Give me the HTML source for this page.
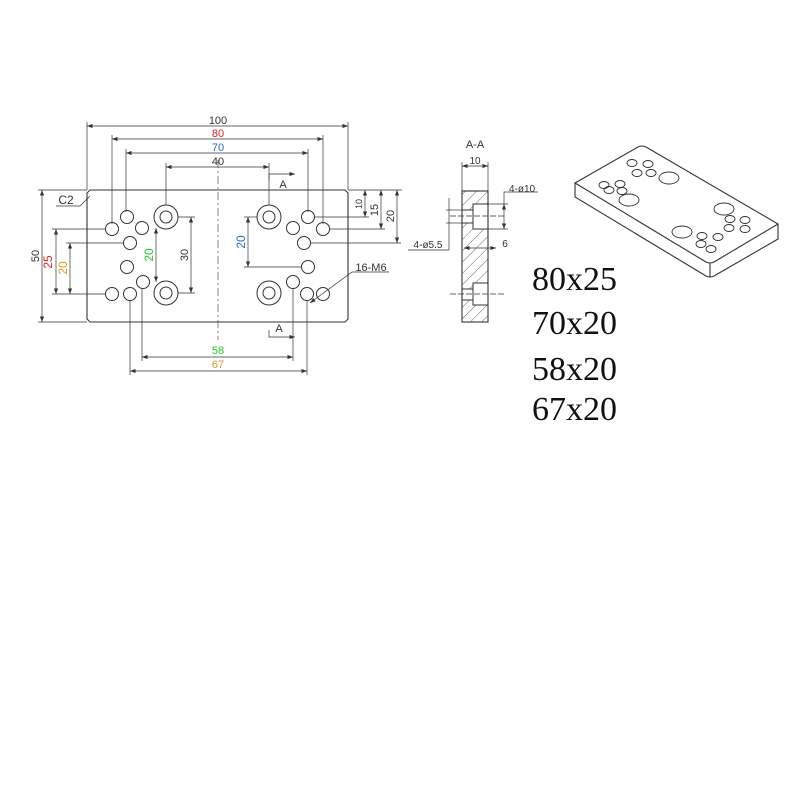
<!DOCTYPE html>
<html><head><style>body{margin:0;background:#fff}</style></head><body>
<svg width="800" height="800" xmlns="http://www.w3.org/2000/svg" font-family="Liberation Sans, sans-serif">
<defs><marker id="a" markerWidth="8" markerHeight="6" refX="8" refY="3" orient="auto-start-reverse"><path d="M0,0 L8,3 L0,6z" fill="#333"/></marker>
<pattern id="h" width="8" height="8" patternUnits="userSpaceOnUse" patternTransform="rotate(45)"><line x1="0" y1="0" x2="0" y2="8" stroke="#444" stroke-width="0.8"/></pattern></defs>
<g stroke="#333" fill="none" stroke-width="0.9">
<path d="M90,190 H345 L348,193 V319 L345,322 H90 L87,319 V193 Z" stroke-width="1.1"/>
<line x1="218" y1="160" x2="218" y2="340" stroke-dasharray="8,3,2,3" stroke-width="0.6"/>
<g stroke-width="1">
<circle cx="166" cy="217" r="12"/><circle cx="166" cy="217" r="6"/>
<circle cx="166" cy="293" r="12"/><circle cx="166" cy="293" r="6"/>
<circle cx="269" cy="217" r="12"/><circle cx="269" cy="217" r="6"/>
<circle cx="269" cy="293" r="12"/><circle cx="269" cy="293" r="6"/>
<g r="6">
<circle cx="127" cy="217" r="6.5"/><circle cx="112" cy="229" r="6.5"/><circle cx="142" cy="228" r="6.5"/><circle cx="130" cy="243" r="6.5"/>
<circle cx="127" cy="267" r="6.5"/><circle cx="143" cy="282" r="6.5"/><circle cx="112" cy="294" r="6.5"/><circle cx="130" cy="294" r="6.5"/>
<circle cx="308" cy="217" r="6.5"/><circle cx="293" cy="228" r="6.5"/><circle cx="323" cy="229" r="6.5"/><circle cx="304" cy="243" r="6.5"/>
<circle cx="308" cy="267" r="6.5"/><circle cx="293" cy="282" r="6.5"/><circle cx="307" cy="294" r="6.5"/><circle cx="323" cy="294" r="6.5"/>
</g></g>
<g stroke-width="0.7">
<line x1="87" y1="122" x2="87" y2="190"/><line x1="348" y1="122" x2="348" y2="190"/>
<line x1="112" y1="135" x2="112" y2="224"/><line x1="323" y1="135" x2="323" y2="224"/>
<line x1="126" y1="149" x2="126" y2="212"/><line x1="308" y1="149" x2="308" y2="212"/>
<line x1="166" y1="163" x2="166" y2="205"/><line x1="269" y1="163" x2="269" y2="205"/>
<line x1="87" y1="126" x2="348" y2="126" marker-start="url(#a)" marker-end="url(#a)"/>
<line x1="112" y1="139" x2="323" y2="139" marker-start="url(#a)" marker-end="url(#a)"/>
<line x1="126" y1="153" x2="308" y2="153" marker-start="url(#a)" marker-end="url(#a)"/>
<line x1="166" y1="167" x2="269" y2="167" marker-start="url(#a)" marker-end="url(#a)"/>
<line x1="142" y1="288" x2="142" y2="361"/><line x1="293" y1="288" x2="293" y2="361"/>
<line x1="130" y1="300" x2="130" y2="375"/><line x1="307" y1="300" x2="307" y2="375"/>
<line x1="142" y1="357" x2="293" y2="357" marker-start="url(#a)" marker-end="url(#a)"/>
<line x1="130" y1="371" x2="307" y2="371" marker-start="url(#a)" marker-end="url(#a)"/>
<line x1="38" y1="190" x2="87" y2="190"/><line x1="38" y1="322" x2="87" y2="322"/>
<line x1="42" y1="190" x2="42" y2="322" marker-start="url(#a)" marker-end="url(#a)"/>
<line x1="52" y1="229" x2="106" y2="229"/><line x1="52" y1="294" x2="106" y2="294"/>
<line x1="56" y1="229" x2="56" y2="294" marker-start="url(#a)" marker-end="url(#a)"/>
<line x1="66" y1="243" x2="124" y2="243"/>
<line x1="70" y1="243" x2="70" y2="294" marker-start="url(#a)" marker-end="url(#a)"/>
<line x1="156" y1="228" x2="156" y2="282" marker-start="url(#a)" marker-end="url(#a)"/>
<line x1="178" y1="217" x2="195" y2="217"/><line x1="178" y1="293" x2="195" y2="293"/>
<line x1="191" y1="217" x2="191" y2="293" marker-start="url(#a)" marker-end="url(#a)"/>
<line x1="244" y1="217" x2="257" y2="217"/><line x1="244" y1="267" x2="302" y2="267"/>
<line x1="248" y1="217" x2="248" y2="267" marker-start="url(#a)" marker-end="url(#a)"/>
<line x1="348" y1="190" x2="402" y2="190"/>
<line x1="314" y1="217" x2="369" y2="217"/><line x1="329" y1="229" x2="385" y2="229"/><line x1="310" y1="243" x2="401" y2="243"/>
<line x1="365" y1="190" x2="365" y2="217" marker-start="url(#a)" marker-end="url(#a)"/>
<line x1="381" y1="190" x2="381" y2="229" marker-start="url(#a)" marker-end="url(#a)"/>
<line x1="397" y1="190" x2="397" y2="243" marker-start="url(#a)" marker-end="url(#a)"/>
<path d="M269,180 V174 H295" marker-end="url(#a)"/><path d="M269,330 V337 H295" marker-end="url(#a)"/>
<path d="M389,272 H352 L310,303" marker-end="url(#a)"/>
<path d="M56,206 H80 L90,196"/>
</g>
<!-- section -->
<rect x="462" y="191" width="26" height="131" fill="url(#h)"/>
<rect x="473" y="204" width="15" height="25" fill="#fff" stroke="none"/><rect x="462" y="210" width="12" height="13" fill="#fff" stroke="none"/>
<rect x="473" y="283" width="15" height="22" fill="#fff" stroke="none"/><rect x="462" y="289" width="12" height="11" fill="#fff" stroke="none"/>
<rect x="462" y="191" width="26" height="131" stroke-width="1.1"/>
<path d="M488,204 H473 V229 H488 M473,210 H462 M473,223 H462 M488,283 H473 V305 H488 M473,289 H462 M473,300 H462" stroke-width="1"/>
<g stroke-width="0.7">
<line x1="462" y1="162" x2="462" y2="191"/><line x1="488" y1="162" x2="488" y2="191"/>
<line x1="462" y1="166" x2="488" y2="166" marker-start="url(#a)" marker-end="url(#a)"/>
<line x1="450" y1="216" x2="505" y2="216" stroke-dasharray="6,2"/><line x1="450" y1="294" x2="505" y2="294" stroke-dasharray="6,2"/>
<line x1="488" y1="204" x2="508" y2="204"/><line x1="488" y1="229" x2="508" y2="229"/>
<line x1="504" y1="204" x2="504" y2="229" marker-start="url(#a)" marker-end="url(#a)"/>
<path d="M504,204 V192 H538"/>
<line x1="446" y1="210" x2="462" y2="210"/><line x1="446" y1="223" x2="462" y2="223"/>
<line x1="449" y1="198" x2="449" y2="250"/><line x1="408" y1="250" x2="449" y2="250"/>
<line x1="464" y1="248" x2="496" y2="248" marker-start="url(#a)" marker-end="url(#a)"/>
</g>
<!-- iso -->
<g stroke-width="1.1">
<path d="M575,183 L638,147 Q642,145 646,147 L778,224 L714,262 Q710,264 706,262 Z"/>
<path d="M575,183 V197 L706,276 Q710,278 714,276 L778,239 V224 M710,263 V277"/>
<g stroke-width="0.9">
<ellipse cx="632" cy="163" rx="5" ry="3.5"/><ellipse cx="648" cy="164" rx="5" ry="3.5"/><ellipse cx="637" cy="173" rx="5" ry="3.5"/><ellipse cx="651" cy="173" rx="5" ry="3.5"/>
<ellipse cx="669" cy="178" rx="10" ry="6"/>
<ellipse cx="604" cy="185" rx="5" ry="3.5"/><ellipse cx="620" cy="184" rx="5" ry="3.5"/><ellipse cx="609" cy="190" rx="5" ry="3.5"/><ellipse cx="622" cy="191" rx="5" ry="3.5"/>
<ellipse cx="629" cy="200" rx="10" ry="6"/>
<ellipse cx="724" cy="209" rx="10" ry="6"/>
<ellipse cx="730" cy="219" rx="5" ry="3.5"/><ellipse cx="745" cy="220" rx="5" ry="3.5"/><ellipse cx="729" cy="228" rx="5" ry="3.5"/><ellipse cx="745" cy="229" rx="5" ry="3.5"/>
<ellipse cx="682" cy="232" rx="10" ry="6"/>
<ellipse cx="702" cy="236" rx="5" ry="3.5"/><ellipse cx="718" cy="237" rx="5" ry="3.5"/><ellipse cx="701" cy="244" rx="5" ry="3.5"/><ellipse cx="711" cy="249" rx="5" ry="3.5"/>
</g></g>
</g>
<g font-size="11" fill="#333" text-anchor="middle">
<text x="218" y="124">100</text><text x="218" y="137" fill="#d22">80</text><text x="218" y="151" fill="#2a6db5">70</text><text x="218" y="165">40</text>
<text x="218" y="354" fill="#2c2">58</text><text x="218" y="368" fill="#e19a1a">67</text>
<text x="66" y="204" font-size="12">C2</text>
<text x="283" y="188" font-size="11">A</text><text x="279" y="332" font-size="11">A</text>
<text x="371" y="271">16-M6</text>
<text transform="translate(39,256) rotate(-90)">50</text>
<text transform="translate(52,262) rotate(-90)" fill="#d22" font-size="12">25</text>
<text transform="translate(67,268) rotate(-90)" fill="#e19a1a" font-size="12">20</text>
<text transform="translate(153,255) rotate(-90)" fill="#2c2" font-size="12">20</text>
<text transform="translate(188,255) rotate(-90)">30</text>
<text transform="translate(245,242) rotate(-90)" fill="#2a6db5" font-size="12">20</text>
<text transform="translate(362,204) rotate(-90)" font-size="9">10</text>
<text transform="translate(378,210) rotate(-90)">15</text>
<text transform="translate(394,216) rotate(-90)">20</text>
<text x="475" y="148">A-A</text><text x="475" y="164" font-size="10">10</text>
<text x="522" y="192" font-size="10">4-ø10</text><text x="428" y="248" font-size="10">4-ø5.5</text><text x="505" y="247" font-size="10">6</text>
</g>
<g font-family="Liberation Serif, serif" font-size="34" fill="#111">
<text x="532" y="290">80x25</text><text x="532" y="334">70x20</text><text x="532" y="380">58x20</text><text x="532" y="420">67x20</text>
</g>
</svg>
</body></html>
